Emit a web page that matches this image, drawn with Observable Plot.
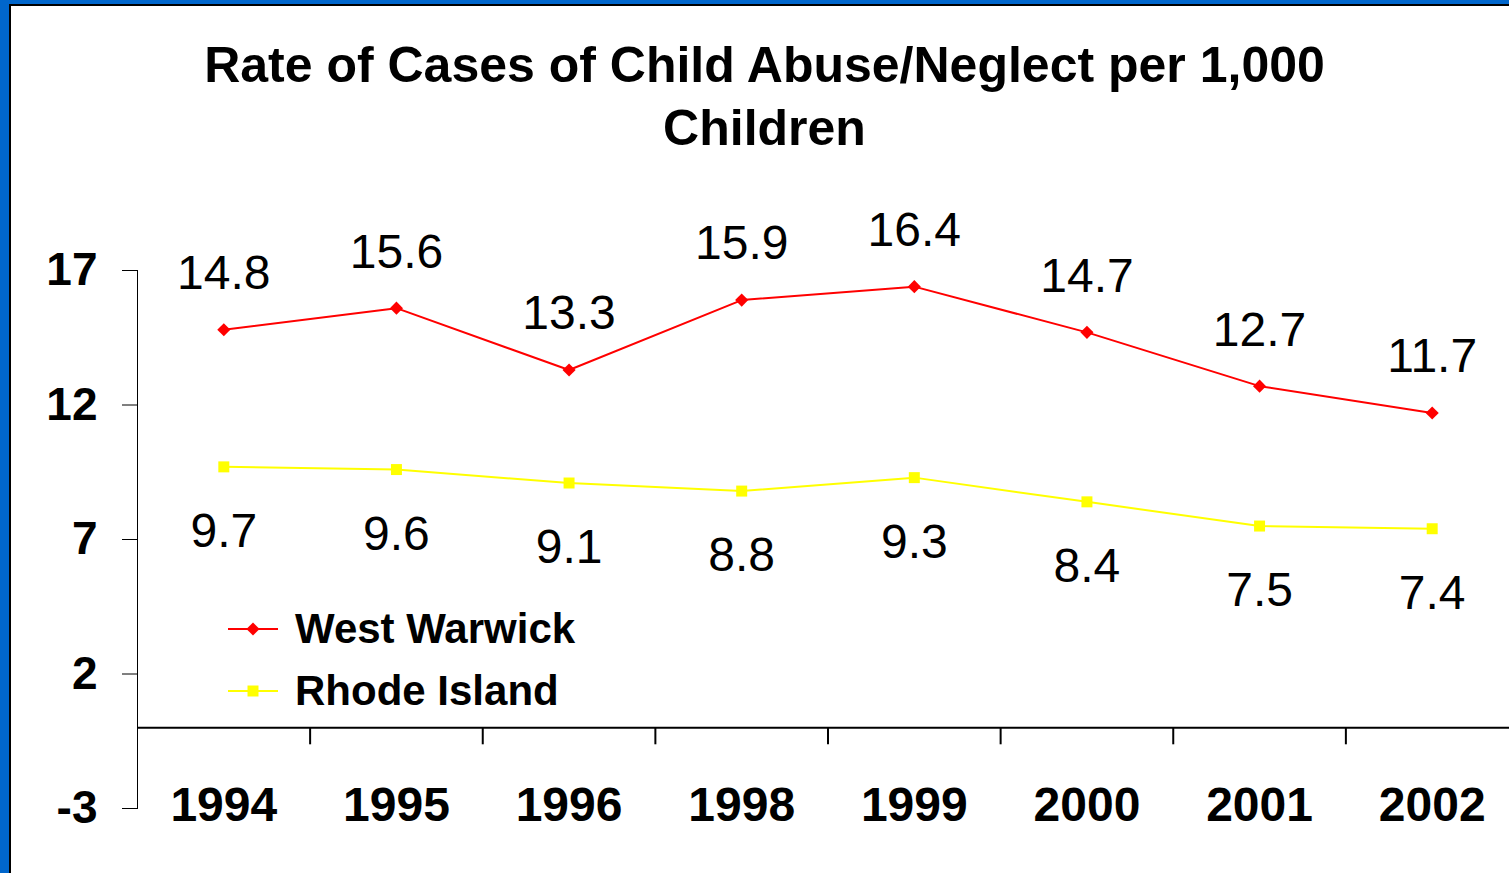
<!DOCTYPE html>
<html>
<head>
<meta charset="utf-8">
<script src="https://cdn.jsdelivr.net/npm/d3@7"></script>
<script src="https://cdn.jsdelivr.net/npm/@observablehq/plot@0.6"></script>
<style>
  html, body { margin: 0; padding: 0; overflow: hidden; background: #0066CC; }
  #frame { position: relative; width: 1509px; height: 873px; background: #0066CC; overflow: hidden; font-family: "Liberation Sans", Arial, sans-serif; }
  #inner { position: absolute; left: 9px; top: 4px; width: 1520px; height: 880px; background: #fff; border-left: 2px solid #000; border-top: 2px solid #000; }
  #title { width: 1507px; padding-top: 28px; height: 126px; text-align: center; font-weight: bold; font-size: 50px; line-height: 63px; color: #000; }
  #chart { position: absolute; left: 0; top: 154px; }
  #legend { position: absolute; left: 228px; top: 598px; font-weight: bold; font-size: 42px; color: #000; }
  .item { display: flex; align-items: center; height: 62px; }
  .item svg { margin-right: 17px; }
  [aria-label^="x-axis"] text { font-size: 48px; }
</style>
</head>
<body>
<div id="frame">
  <div id="inner">
    <div id="title">Rate of Cases of Child Abuse/Neglect per 1,000<br>Children</div>
    <div id="chart"></div>
  </div>
  <div id="legend"></div>
</div>
<script>
const years = ["1994", "1995", "1996", "1998", "1999", "2000", "2001", "2002"];
const westWarwick = [14.8, 15.6, 13.3, 15.9, 16.4, 14.7, 12.7, 11.7];
const rhodeIsland = [9.7, 9.6, 9.1, 8.8, 9.3, 8.4, 7.5, 7.4];
const yTicks = [-3, 2, 7, 12, 17];
const seriesNames = ["West Warwick", "Rhode Island"];
const seriesColors = ["#FF0000", "#FFFF00"];

const idx = years.map((_, i) => i);
const ww = idx.map(i => ({i, v: westWarwick[i]}));
const ri = idx.map(i => ({i, v: rhodeIsland[i]}));
const boundaries = idx.slice(1).map(i => i - 0.5);

const chart = Plot.plot({
  width: 1498,
  height: 713,
  marginLeft: 126,
  marginRight: 0,
  marginTop: 110,
  marginBottom: 65,
  style: {fontFamily: '"Liberation Sans", Arial, sans-serif', fontSize: "46px", fontWeight: "bold", background: "transparent", color: "#000", overflow: "visible"},
  x: {domain: [-0.5, years.length - 0.5], range: [126, 1507], ticks: idx, tickFormat: i => years[i], tickSize: 0, tickPadding: -22, label: null},
  y: {domain: [-3, 17], ticks: yTicks, tickFormat: d => String(d), tickSize: 15, tickPadding: 25, line: true, label: null},
  marks: [
    Plot.ruleY([0], {stroke: "#000", strokeWidth: 2}),
    Plot.ruleX(boundaries, {x: d => d, y1: 0, y2: 0, insetBottom: -17, stroke: "#000", strokeWidth: 2}),
    Plot.line(ww, {x: "i", y: "v", stroke: seriesColors[0], strokeWidth: 2}),
    Plot.line(ri, {x: "i", y: "v", stroke: seriesColors[1], strokeWidth: 2}),
    Plot.dot(ww, {x: "i", y: "v", symbol: "diamond2", r: 5.9, fill: seriesColors[0], stroke: "none"}),
    Plot.dot(ri, {x: "i", y: "v", symbol: "square", r: 6.2, fill: seriesColors[1], stroke: "none"}),
    Plot.text(ww, {x: "i", y: "v", text: d => d.v.toFixed(1), dy: -56, fontSize: 48, fontWeight: "normal", fill: "#000"}),
    Plot.text(ri, {x: "i", y: "v", text: d => d.v.toFixed(1), dy: 65, fontSize: 48, fontWeight: "normal", fill: "#000"})
  ]
});
document.getElementById("chart").appendChild(chart);

// Legend
const symbols = [d3.symbolDiamond2, d3.symbolSquare];
const sizes = [5.9 * 5.9 * Math.PI, 6.2 * 6.2 * Math.PI];
const legend = document.getElementById("legend");
seriesNames.forEach((name, k) => {
  const item = document.createElement("div");
  item.className = "item";
  const svg = d3.create("svg").attr("width", 50).attr("height", 20);
  svg.append("line").attr("x1", 0).attr("x2", 50).attr("y1", 10).attr("y2", 10)
    .attr("stroke", seriesColors[k]).attr("stroke-width", 2);
  svg.append("path").attr("transform", "translate(25,10)")
    .attr("d", d3.symbol(symbols[k], sizes[k])()).attr("fill", seriesColors[k]);
  item.appendChild(svg.node());
  const span = document.createElement("span");
  span.textContent = name;
  item.appendChild(span);
  legend.appendChild(item);
});
</script>
</body>
</html>
